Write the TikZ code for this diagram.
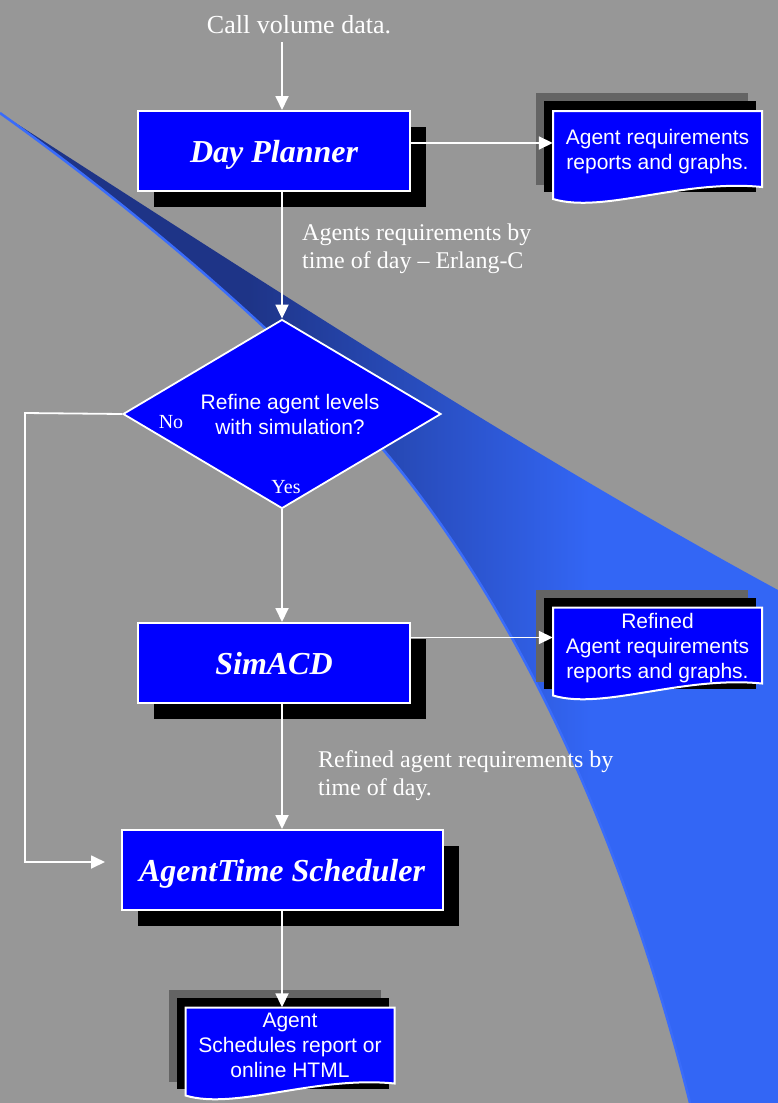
\documentclass[tikz,border=0pt]{standalone}
\usepackage{fontspec}
\setmainfont{Liberation Serif}
\setsansfont{Liberation Sans}
\usetikzlibrary{arrows.meta,shapes.geometric,shadows,calc}

\definecolor{slidegrey}{RGB}{151,151,151}
\definecolor{boxblue}{RGB}{0,0,255}
\definecolor{swdark}{RGB}{30,52,135}
\definecolor{swlight}{RGB}{51,102,245}
\definecolor{swedge}{RGB}{58,108,250}
\definecolor{pagegrey}{RGB}{100,100,100}

\pgfdeclarehorizontalshading{swoosh}{100bp}{color(0bp)=(swdark); color(41bp)=(swdark); color(63bp)=(swlight); color(100bp)=(swlight)}

\tikzset{
  flow/.style={draw=white, line width=1.8pt, -{Triangle[length=14pt,width=13pt]}},
  plain/.style={draw=white, line width=1.8pt},
  procbox/.style={draw=white, line width=2pt, fill=boxblue, text=white,
    minimum width=272pt, minimum height=80pt, inner sep=0pt, text depth=0pt,
    font=\fontsize{32}{36}\selectfont\bfseries\itshape,
    drop shadow={shadow xshift=16pt, shadow yshift=-16pt, fill=black, opacity=1}},
  decision/.style={diamond, aspect=1.68, draw=white, line width=1.8pt, fill=boxblue, text=white,
    minimum width=318pt, minimum height=189pt, inner sep=0pt, align=center, text depth=0pt,
    font=\sffamily\fontsize{21}{25}\selectfont},
  docbox/.style={text=white, align=center, minimum width=209pt, minimum height=76pt,
    inner sep=0pt, text depth=0pt, font=\sffamily\fontsize{21}{25}\selectfont},
  pageedge/.style={draw=white, line width=2pt, fill=boxblue},
  note/.style={text=white, align=left, inner sep=0pt, font=\fontsize{24}{28}\selectfont},
  branch/.style={text=white, inner sep=0pt, font=\fontsize{20}{24}\selectfont}
}

% report page with its two shadow sheets and a wavy lower edge
\newcommand\reportpage[3]{%
  \coordinate (#1-c) at #2;
  \fill[pagegrey] ($(#1-c)+(-121.5,-56)$) rectangle ($(#1-c)+(90.5,36)$);
  \fill[black] ($(#1-c)+(-113.5,-48)$) rectangle ($(#1-c)+(98.5,43)$);
  \filldraw[pageedge] ($(#1-c)+(-104.5,-38)$) -- ($(#1-c)+(104.5,-38)$) -- ($(#1-c)+(104.5,38)$)
    .. controls ($(#1-c)+(24.5,30)$) and ($(#1-c)+(-54.5,65)$) .. ($(#1-c)+(-104.5,50)$) -- cycle;
  \node[docbox] (#1) at (#1-c) {#3};
}

\begin{document}
\begin{tikzpicture}[x=1pt,y=-1pt]
\useasboundingbox (0,0) rectangle (778,1103);
\fill[slidegrey] (0,0) rectangle (778,1103);

% background swoosh
\shade[shading=swoosh] (0,113) .. controls (260,280) and (520,450) .. (778,590)
  -- (778,1103) -- (690,1103) .. controls (640,903) and (550,657) .. (400,470)
  .. controls (310,358) and (150,220) .. (0,113) -- cycle;
\draw[swedge, line width=2.5pt] (0,113) .. controls (150,220) and (310,358) .. (400,470)
  .. controls (550,657) and (640,903) .. (690,1103);

% steps
\node[text=white, inner sep=0pt, font=\fontsize{26}{30}\selectfont] (calls) at (299,25) {Call volume data.};
\node[procbox] (dayplan) at (274,151) {Day Planner};
\node[decision] (dec) at (282,414) {\hspace*{16pt}Refine agent levels\\\hspace*{16pt}with simulation?};
\node[procbox] (sim) at (274,663) {SimACD};
\node[procbox, minimum width=321pt] (sched) at (282,870) {AgentTime Scheduler};

\reportpage{rep1}{(657.5,149)}{Agent requirements\\reports and graphs.}
\reportpage{rep2}{(657.5,645.5)}{Refined\\Agent requirements\\reports and graphs.}
\reportpage{rep3}{(290,1045.5)}{Agent\\Schedules report or\\online HTML}

\node[branch] (nolbl) at (171,422) {No};
\node[branch] (yeslbl) at (286,487) {Yes};
\node[note, anchor=west] (erlang) at (302,249) {Agents requirements by\\time of day -- Erlang-C};
\node[note, anchor=west] (refnote) at (318,776) {Refined agent requirements by\\time of day.};

\coordinate (noturn) at (25,413);
\coordinate (noend) at (105,862);

% connectors
\draw[flow] ([yshift=-8pt]calls.south -| dec.north) -- (dec.north |- dayplan.north);
\draw[flow] (dayplan.south -| dec.north) -- (dec.north);
\draw[flow] ([yshift=6pt]rep1.west -| dayplan.east) -- ([yshift=6pt]rep1.west);
\draw[flow] (dec.south) -- (dec.south |- sim.north);
\draw[flow] ([yshift=8pt]rep2.west -| sim.east) -- ([yshift=8pt]rep2.west);
\draw[flow] (sim.south -| dec.south) -- (dec.south |- sched.north);
\draw[flow] (dec.west) -- (noturn) |- (noend);
\draw[flow] (sched.south -| dec.south) -- (dec.south |- rep3.north);
\end{tikzpicture}
\end{document}
